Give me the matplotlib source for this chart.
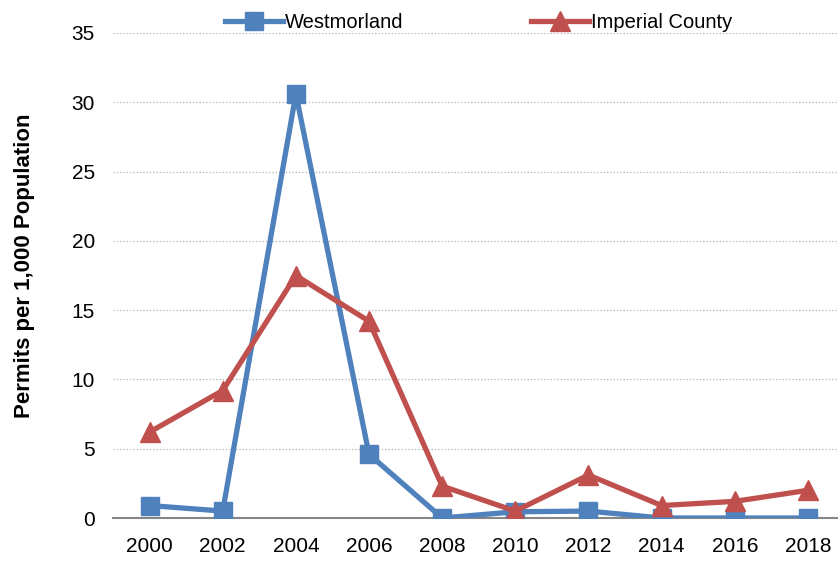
import matplotlib
matplotlib.use("Agg")
import matplotlib.pyplot as plt

years = [2000, 2002, 2004, 2006, 2008, 2010, 2012, 2014, 2016, 2018]
westmorland = [0.9, 0.5, 30.6, 4.6, 0.0, 0.45, 0.5, 0.0, 0.0, 0.0]
imperial = [6.2, 9.2, 17.5, 14.2, 2.3, 0.5, 3.1, 0.9, 1.2, 2.0]
y_ticks = [0, 5, 10, 15, 20, 25, 30, 35]

plt.rcParams['font.family'] = ['Liberation Sans', 'DejaVu Sans']

fig = plt.figure(figsize=(8.38, 5.63), dpi=100)
ax = fig.add_axes([113 / 838, 45 / 563, 731.5 / 838, 485 / 563])

ax.plot(years, westmorland, color='#4F81BD', lw=3.8, marker='s', ms=13,
        label='Westmorland', zorder=3)
ax.plot(years, imperial, color='#C0504D', lw=3.8, marker='^', ms=14,
        label='Imperial County', zorder=4)

ax.set_xlim(1999, 2019)
ax.set_ylim(0, 35)
ax.set_xticks(years)
ax.set_yticks(y_ticks)
ax.tick_params(axis='both', length=0, labelsize=15, colors='black')
ax.tick_params(axis='x', pad=14)
ax.tick_params(axis='y', pad=13)

ax.grid(axis='y', linestyle=':', color='#b0b0b0', lw=0.9)
ax.set_axisbelow(True)
for s in ['top', 'right', 'left']:
    ax.spines[s].set_visible(False)
ax.spines['bottom'].set_color('#868686')
ax.spines['bottom'].set_linewidth(1.5)

ax.set_ylabel('Permits per 1,000 Population', fontsize=16, fontweight='bold')
ax.yaxis.set_label_coords(-0.107, 0.52)

ax.legend(loc='upper center', bbox_to_anchor=(0.571, 0.995), ncol=2, frameon=False,
          fontsize=14.5, handlelength=2.9, columnspacing=6.3, handletextpad=0.1,
          bbox_transform=fig.transFigure, borderaxespad=0.1)

plt.savefig('out.png', dpi=100)
